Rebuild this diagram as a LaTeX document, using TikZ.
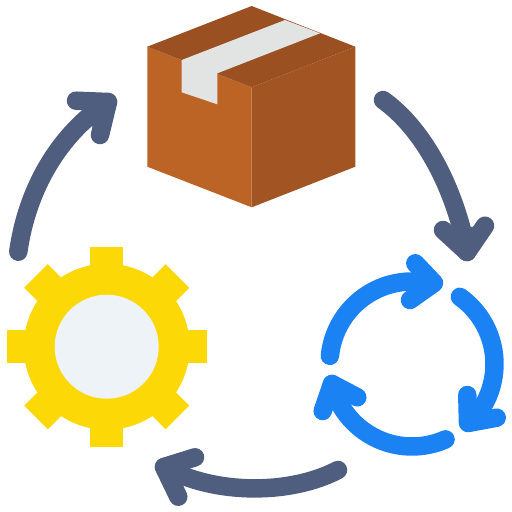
\documentclass[tikz,border=0pt]{standalone}
\usepackage{tikz}
\usetikzlibrary{calc}
\definecolor{boxleft}{HTML}{BB6426}
\definecolor{boxright}{HTML}{A25522}
\definecolor{boxtop}{HTML}{9A5020}
\definecolor{tapegrey}{HTML}{E2E4E4}
\definecolor{gearyellow}{HTML}{FBD806}
\definecolor{gearhole}{HTML}{EDF3F6}
\definecolor{cycleblue}{HTML}{1A82F2}
\definecolor{slatedark}{HTML}{4F5D7E}
\tikzset{
	bigarrow/.style={draw=slatedark,line width=.37cm,line cap=round,line join=round},
	cyclearrow/.style={draw=cycleblue,line width=.37cm,line cap=round,line join=round},
	tooth/.style={fill=gearyellow}
}

\begin{document}
\begin{tikzpicture}[x=.02cm,y=-.02cm]
	\useasboundingbox (0,0) rectangle (512,512);
	\coordinate (gear) at (106.7,346.7);
	\coordinate (cycle) at (412,364);
	\fill[boxleft] (147.3,46.7) -- (251.7,87.3) -- (251.7,207.3) -- (147.3,166.7) -- cycle;
	\fill[boxright] (251.7,87.3) -- (355.3,46.7) -- (355.3,166.7) -- (251.7,207.3) -- cycle;
	\fill[boxtop] (251.7,6) -- (355.3,46.7) -- (251.7,87.3) -- (147.3,46.7) -- cycle;
	\fill[tapegrey] (285,20) -- (320,33.3) -- (217.3,73.3) -- (217.3,104.3) -- (181.7,92.3) -- (181.7,60) -- cycle;
	\foreach \a in {0,45,...,315}
		\fill[tooth,shift={(gear)},rotate=\a] (-16.7,-100) rectangle (16.7,0);
	\fill[gearyellow] (gear) circle (83);
	\fill[gearhole] (gear) circle (52);
	\draw[cyclearrow] ($(cycle)+(185.7:82.5)$) arc (185.7:282:82.5);
	\draw[cyclearrow] (415.3,263.3) -- (434,283) -- (410,300);
	\fill[cycleblue] (434,283) -- (411.7,272.7) -- (408.3,291.7) -- cycle;
	\draw[cyclearrow] ($(cycle)+(-54.5:82.5)$) arc (-54.5:45:82.5);
	\draw[cyclearrow] (467.3,395) -- (468,423) -- (496.7,417.7);
	\fill[cycleblue] (468,423) -- (475.7,398.3) -- (491.7,408.3) -- cycle;
	\draw[cyclearrow] ($(cycle)+(66:82.5)$) arc (66:166:82.5);
	\draw[cyclearrow] (322.7,411) -- (332,384) -- (357.3,397.3);
	\fill[cycleblue] (332,384) -- (350,404) -- (331.7,410) -- cycle;
	\draw[bigarrow] (383,100) .. controls (425,130) and (455,190) .. (467,252);
	\draw[bigarrow] (443,230) -- (467,252) -- (485,225.7);
	\fill[slatedark] (467,252) -- (455,229.3) -- (473.3,226.7) -- cycle;
	\draw[bigarrow] (338,470) .. controls (290,495) and (215,495) .. (164,467);
	\draw[bigarrow] (195,457.3) -- (164,467) -- (178.3,496.7);
	\fill[slatedark] (164,467) -- (190,469.3) -- (186.7,486.7) -- cycle;
	\draw[bigarrow] (18.3,251.7) .. controls (27,190) and (58,135) .. (108,102);
	\draw[bigarrow] (76,100.7) -- (108,102) -- (100,135);
	\fill[slatedark] (108,102) -- (82,110) -- (93,127) -- cycle;
\end{tikzpicture}
\end{document}
